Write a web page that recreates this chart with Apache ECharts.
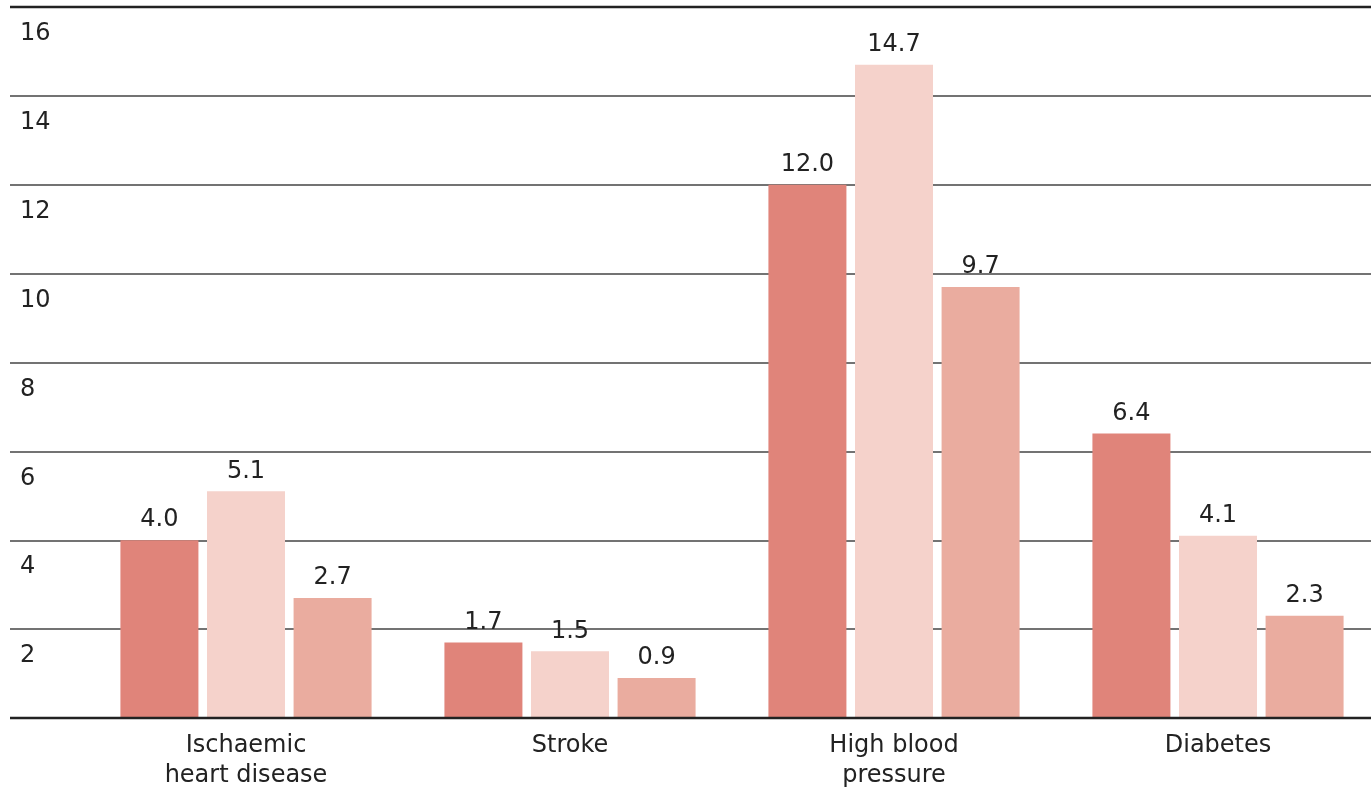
<!DOCTYPE html>
<html>
<head>
<meta charset="utf-8">
<script src="https://cdn.jsdelivr.net/npm/echarts@6/dist/echarts.min.js"></script>
<style>
html,body{margin:0;padding:0;background:#fff;}
#chart{width:1371px;height:802px;}
</style>
</head>
<body>
<div id="chart"></div>
<script>
var categories = ['Ischaemic\nheart disease', 'Stroke', 'High blood\npressure', 'Diabetes'];
var seriesA = [4.0, 1.7, 12.0, 6.4];
var seriesB = [5.1, 1.5, 14.7, 4.1];
var seriesC = [2.7, 0.9, 9.7, 2.3];
var yTicks = [0, 2, 4, 6, 8, 10, 12, 14, 16];
var colors = ['#E0847A', '#F5D2CB', '#EAAC9F'];

var FONT = '"DejaVu Sans", sans-serif';
var chart = echarts.init(document.getElementById('chart'));

function barSeries(data, color) {
  return {
    type: 'bar',
    xAxisIndex: 1, yAxisIndex: 1,
    data: data,
    barWidth: 78,
    barGap: '11%',
    itemStyle: { color: color },
    label: {
      show: true, position: 'top', distance: 8,
      formatter: function (p) { return p.value.toFixed(1); },
      fontFamily: FONT, fontSize: 24, color: '#222'
    },
    z: 3
  };
}

chart.setOption({
  animation: false,
  grid: [
    { left: 10, right: 0, top: 7, bottom: 84, outerBoundsMode: 'none' },
    { left: 84, width: 1296, top: 7, bottom: 84, outerBoundsMode: 'none' }
  ],
  xAxis: [
    { type: 'value', gridIndex: 0, show: false, min: 0, max: 1 },
    {
      type: 'category', gridIndex: 1, data: categories,
      axisLine: { show: false }, axisTick: { show: false },
      axisLabel: { fontFamily: FONT, fontSize: 24, color: '#222', lineHeight: 30, margin: 13 }
    }
  ],
  yAxis: [
    {
      type: 'value', gridIndex: 0, min: yTicks[0], max: yTicks[yTicks.length - 1], interval: 2,
      axisLine: { show: false }, axisTick: { show: false },
      splitLine: { show: true, lineStyle: { color: '#444', width: 1.5 } },
      axisLabel: {
        inside: true, align: 'left', verticalAlign: 'top', padding: [15, 0, 0, 2],
        fontFamily: FONT, fontSize: 24, color: '#222',
        formatter: function (v) { return v === 0 ? '' : String(v); }
      }
    },
    {
      type: 'value', gridIndex: 1, min: 0, max: 16, interval: 2, show: false,
      splitLine: { show: false }
    }
  ],
  series: [
    barSeries(seriesA, colors[0]),
    barSeries(seriesB, colors[1]),
    barSeries(seriesC, colors[2])
  ]
});

var yTop = chart.convertToPixel({ yAxisIndex: 0 }, 16);
var yBot = chart.convertToPixel({ yAxisIndex: 0 }, 0);
chart.setOption({
  graphic: [
    { type: 'line', shape: { x1: 10, y1: yTop, x2: 1371, y2: yTop }, style: { stroke: '#222', lineWidth: 2.5 }, z: 10 },
    { type: 'line', shape: { x1: 10, y1: yBot, x2: 1371, y2: yBot }, style: { stroke: '#222', lineWidth: 2.5 }, z: 10 }
  ]
});
</script>
</body>
</html>
